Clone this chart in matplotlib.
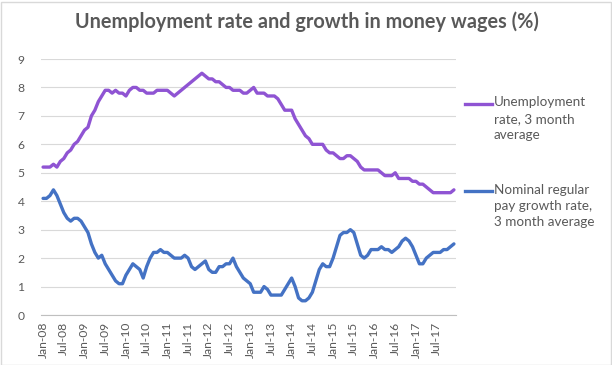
import matplotlib
matplotlib.use("Agg")
import matplotlib.pyplot as plt
from matplotlib.lines import Line2D
from matplotlib.patches import Rectangle

plt.rcParams["font.family"] = ["Lato", "DejaVu Sans"]

# monthly values, Jan-08 .. Dec-17
unemployment = [
    5.2, 5.2, 5.2, 5.3, 5.2, 5.4, 5.5, 5.7, 5.8, 6.0, 6.1, 6.3,
    6.5, 6.6, 7.0, 7.2, 7.5, 7.7, 7.9, 7.9, 7.8, 7.9, 7.8, 7.8,
    7.7, 7.9, 8.0, 8.0, 7.9, 7.9, 7.8, 7.8, 7.8, 7.9, 7.9, 7.9,
    7.9, 7.8, 7.7, 7.8, 7.9, 8.0, 8.1, 8.2, 8.3, 8.4, 8.5, 8.4,
    8.3, 8.3, 8.2, 8.2, 8.1, 8.0, 8.0, 7.9, 7.9, 7.9, 7.8, 7.8,
    7.9, 8.0, 7.8, 7.8, 7.8, 7.7, 7.7, 7.7, 7.6, 7.4, 7.2, 7.2,
    7.2, 6.9, 6.7, 6.5, 6.3, 6.2, 6.0, 6.0, 6.0, 6.0, 5.8, 5.7,
    5.7, 5.6, 5.5, 5.5, 5.6, 5.6, 5.5, 5.4, 5.2, 5.1, 5.1, 5.1,
    5.1, 5.1, 5.0, 4.9, 4.9, 4.9, 5.0, 4.8, 4.8, 4.8, 4.8, 4.7,
    4.7, 4.6, 4.6, 4.5, 4.4, 4.3, 4.3, 4.3, 4.3, 4.3, 4.3, 4.4,
]
pay_growth = [
    4.1, 4.1, 4.2, 4.4, 4.2, 3.9, 3.6, 3.4, 3.3, 3.4, 3.4, 3.3,
    3.1, 2.9, 2.5, 2.2, 2.0, 2.1, 1.8, 1.6, 1.4, 1.2, 1.1, 1.1,
    1.4, 1.6, 1.8, 1.7, 1.6, 1.3, 1.7, 2.0, 2.2, 2.2, 2.3, 2.2,
    2.2, 2.1, 2.0, 2.0, 2.0, 2.1, 2.0, 1.7, 1.6, 1.7, 1.8, 1.9,
    1.6, 1.5, 1.5, 1.7, 1.7, 1.8, 1.8, 2.0, 1.7, 1.5, 1.3, 1.2,
    1.1, 0.8, 0.8, 0.8, 1.0, 0.9, 0.7, 0.7, 0.7, 0.7, 0.9, 1.1,
    1.3, 1.0, 0.6, 0.5, 0.5, 0.6, 0.8, 1.2, 1.6, 1.8, 1.7, 1.7,
    2.0, 2.4, 2.8, 2.9, 2.9, 3.0, 2.9, 2.5, 2.1, 2.0, 2.1, 2.3,
    2.3, 2.3, 2.4, 2.3, 2.3, 2.2, 2.3, 2.4, 2.6, 2.7, 2.6, 2.4,
    2.1, 1.8, 1.8, 2.0, 2.1, 2.2, 2.2, 2.2, 2.3, 2.3, 2.4, 2.5,
]
tick_labels = ["Jan-08", "Jul-08", "Jan-09", "Jul-09", "Jan-10", "Jul-10",
               "Jan-11", "Jul-11", "Jan-12", "Jul-12", "Jan-13", "Jul-13",
               "Jan-14", "Jul-14", "Jan-15", "Jul-15", "Jan-16", "Jul-16",
               "Jan-17", "Jul-17"]
label_unemp = "Unemployment\nrate, 3 month\naverage"
label_pay = "Nominal regular\npay growth rate,\n3 month average"

PURPLE = "#8f54d3"
BLUE = "#4472c4"
TXT = "#595959"
GRID = "#d9d9d9"

fig = plt.figure(figsize=(6.12, 3.65), dpi=100)
ax = fig.add_axes([41 / 612, 50 / 365, 415 / 612, 256 / 365])

months = list(range(len(unemployment)))
ax.plot(months, unemployment, color=PURPLE, lw=2.4, solid_capstyle="round")
ax.plot(months, pay_growth, color=BLUE, lw=2.4, solid_capstyle="round")

ax.set_xlim(-0.6, 119.6)
ax.set_ylim(0, 9)
ax.set_yticks(range(10))
ax.set_xticks(range(0, len(months), 6))
ax.set_xticklabels(tick_labels, rotation=90, fontsize=8.7, color=TXT)
ax.tick_params(axis="y", labelsize=8.7, labelcolor=TXT, length=0, pad=12)
ax.tick_params(axis="x", length=0, pad=5)
ax.grid(axis="y", color=GRID, lw=0.8)
ax.set_axisbelow(True)
for side in ["top", "right", "left"]:
    ax.spines[side].set_visible(False)
ax.spines["bottom"].set_color("#bfbfbf")
ax.spines["bottom"].set_linewidth(0.8)

fig.text(307 / 612, 1 - 22 / 365, "Unemployment rate and growth in money wages (%)",
         ha="center", va="center", fontsize=14.3, fontweight="bold", color=TXT)

# legend, drawn by hand so the line sits on the first text line
for y, col, lab in [(104, PURPLE, label_unemp), (191, BLUE, label_pay)]:
    yf = 1 - y / 365
    fig.add_artist(Line2D([465 / 612, 492 / 612], [yf, yf], color=col, lw=2.4))
    fig.text(494 / 612, yf + 7.5 / 365, lab, ha="left", va="top", fontsize=9.7,
             color=TXT, linespacing=1.42)

fig.add_artist(Rectangle((0.5 / 612, 0.5 / 365), 610.5 / 612, 363 / 365, fill=False,
                         edgecolor=GRID, lw=1, transform=fig.transFigure))

fig.savefig("out.png", dpi=100)
